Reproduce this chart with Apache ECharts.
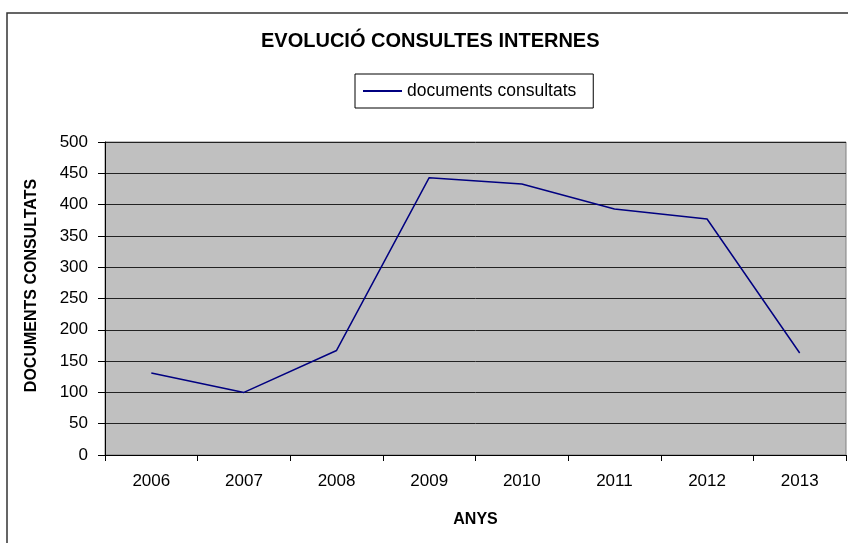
<!DOCTYPE html>
<html>
<head>
<meta charset="utf-8">
<script src="https://cdn.jsdelivr.net/npm/echarts@6/dist/echarts.min.js"></script>
<style>
  html, body { margin: 0; padding: 0; background: #fff; }
  #chart { width: 848px; height: 543px; }
</style>
</head>
<body>
<div id="chart"></div>
<script>
// dades llegides del gràfic
const years = ['2006', '2007', '2008', '2009', '2010', '2011', '2012', '2013']
const consultats = [131, 100, 167, 443, 433, 393, 377, 163]
const yMin = 0
const yMax = 500
const yStep = 50

const font = "'Liberation Sans', Arial, sans-serif"

const chart = echarts.init(document.getElementById('chart'))
chart.setOption({
  animation: false,
  backgroundColor: '#fff',
  textStyle: { fontFamily: font },
  graphic: [{
    type: 'rect',
    shape: { x: 7, y: 13, width: 900, height: 600 },
    style: { fill: 'none', stroke: '#333', lineWidth: 1.5 },
    silent: true
  }],
  title: {
    text: 'EVOLUCIÓ CONSULTES INTERNES',
    left: 261,
    top: 31,
    padding: 0,
    textStyle: { fontSize: 20, fontWeight: 'bold', color: '#000', fontFamily: font }
  },
  legend: {
    data: ['documents consultats'],
    icon: 'rect',
    left: 355,
    top: 74,
    padding: [8, 17, 8, 8],
    borderColor: '#000',
    borderWidth: 1,
    itemWidth: 39,
    itemHeight: 2,
    itemGap: 4,
    textStyle: { fontSize: 17.5, color: '#000', fontFamily: font }
  },
  grid: {
    show: true,
    left: 105,
    top: 142,
    right: 2,
    bottom: 88,
    backgroundColor: '#C0C0C0',
    borderColor: '#808080',
    borderWidth: 1,
    containLabel: false
  },
  xAxis: {
    type: 'category',
    data: years,
    boundaryGap: true,
    name: 'ANYS',
    nameLocation: 'middle',
    nameGap: 57,
    nameTextStyle: { fontSize: 16, fontWeight: 'bold', color: '#000', fontFamily: font },
    axisLine: { lineStyle: { color: '#000', width: 1 } },
    axisTick: { show: true, length: 6, alignWithLabel: false, lineStyle: { color: '#000' } },
    axisLabel: { fontSize: 17, color: '#000', margin: 18, fontFamily: font },
    splitLine: { show: false }
  },
  yAxis: {
    type: 'value',
    min: yMin,
    max: yMax,
    interval: yStep,
    name: 'DOCUMENTS CONSULTATS',
    nameLocation: 'middle',
    nameRotate: 90,
    nameGap: 65,
    nameTextStyle: { fontSize: 16, fontWeight: 'bold', color: '#000', fontFamily: font, padding: [0, 0, 0, 26] },
    axisLine: { show: true, lineStyle: { color: '#000', width: 1 } },
    axisTick: { show: true, length: 7, lineStyle: { color: '#000' } },
    axisLabel: { fontSize: 17, color: '#000', margin: 17, fontFamily: font },
    splitLine: { show: true, lineStyle: { color: '#222', width: 1 } }
  },
  series: [{
    name: 'documents consultats',
    type: 'line',
    data: consultats,
    symbol: 'none',
    lineStyle: { color: '#000080', width: 1.5 },
    itemStyle: { color: '#000080' }
  }]
})
</script>
</body>
</html>
